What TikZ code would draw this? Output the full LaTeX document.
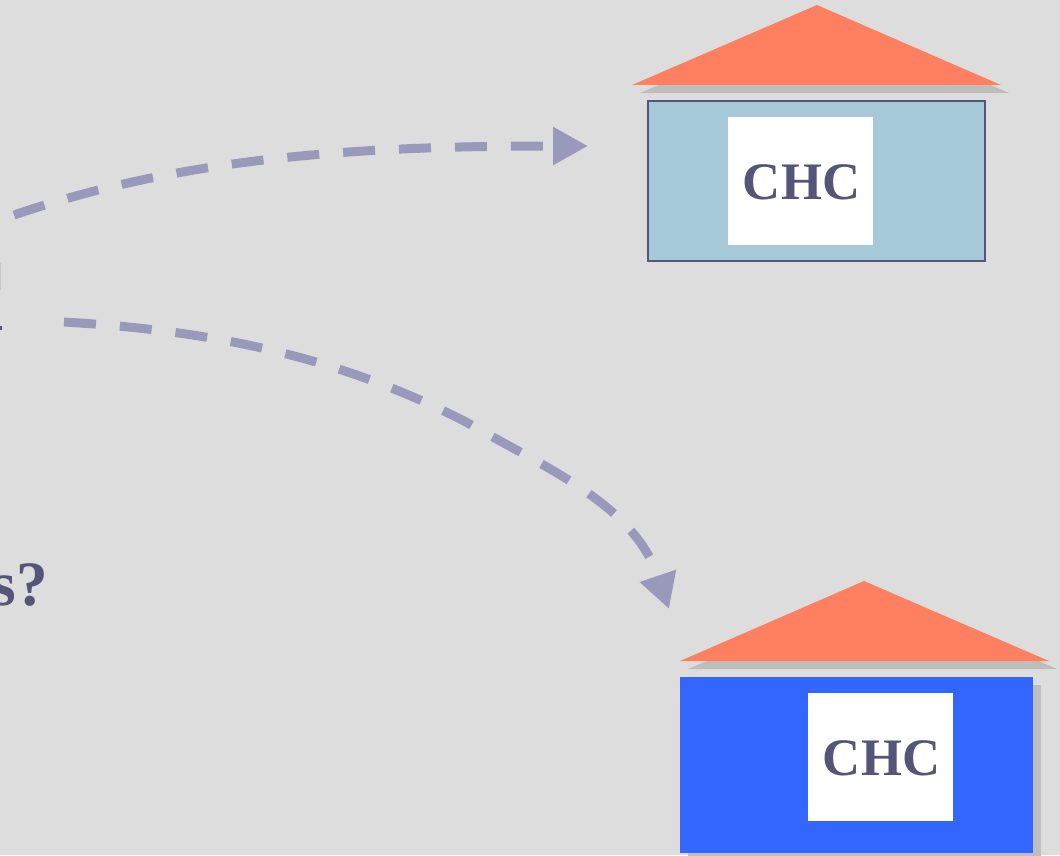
\documentclass[tikz,border=0pt]{standalone}
\usepackage{fontspec}
\setmainfont{Liberation Serif}
\usetikzlibrary{arrows.meta}
\definecolor{slide}{HTML}{DDDDDD}
\definecolor{ink}{HTML}{55557A}
\definecolor{flow}{HTML}{9999BB}
\definecolor{roof}{HTML}{FF8060}
\definecolor{greyshadow}{HTML}{BEBEBE}
\definecolor{paleblue}{HTML}{A6C9DA}
\definecolor{strongblue}{HTML}{3366FF}
\tikzset{
  ChcStyle/.style={fill=white,inner sep=0pt,minimum width=2.9cm,minimum height=2.56cm,
                   text height=21.5pt,text depth=0pt,
                   text=ink,font=\fontsize{30}{30}\selectfont\bfseries},
  FlowStyle/.style={draw=flow,line width=.18cm,dash pattern=on .64cm off .48cm,
                    -{Triangle[length=.7cm,width=.72cm,fill=flow]}}
}
\begin{document}
\begin{tikzpicture}[x=.02cm,y=-.02cm]
        \useasboundingbox (0,0) rectangle (1060,855);
        \clip (0,0) rectangle (1060,855);
        \fill[slide] (0,0) rectangle (1060,855);
        % upper house
        \fill[greyshadow] (640,93) -- (825,13) -- (1009,93) -- cycle;
        \fill[roof] (632,85) -- (817,5) -- (1001,85) -- cycle;
        \node[draw=ink,line width=.04cm,fill=paleblue,inner sep=0pt,minimum width=6.74cm,minimum height=3.2cm] (BodyUp) at (816.5,181) {};
        \node[ChcStyle] (ChcUp) at (800.5,181) {\kern.04cm CHC};
        % lower house
        \fill[greyshadow] (688,669) -- (872,589) -- (1057,669) -- cycle;
        \fill[roof] (680,661) -- (864,581) -- (1049,661) -- cycle;
        \fill[greyshadow] (688,685) rectangle (1041,861);
        \node[fill=strongblue,inner sep=0pt,minimum width=7.06cm,minimum height=3.52cm] (BodyDown) at (856.5,765) {};
        \node[ChcStyle] (ChcDown) at (880.5,757) {\kern.04cm CHC};
        % cut text on the left edge
        \node[anchor=base east,inner sep=0pt,text=ink,font=\fontsize{36}{36}\selectfont\bfseries] (Question) at (48,605) {s?};
        \fill[ink] (0,326) rectangle (2,330);
        \fill[black!10!slide] (0,263) rectangle (1,290);
        % flows
        \coordinate (StartUp) at (14,215);
        \coordinate (EndUp) at (588,146);
        \coordinate (StartDown) at (64,322);
        \coordinate (BendDown) at (466,422);
        \coordinate (EndDown) at (669,609);
        \draw[FlowStyle] (StartUp) .. controls (190,155) and (370,146) .. (EndUp);
        \draw[FlowStyle] (StartDown) .. controls (200,330) and (330,352) .. (BendDown)
                         .. controls (550,470) and (634,505) .. (EndDown);
\end{tikzpicture}
\end{document}
